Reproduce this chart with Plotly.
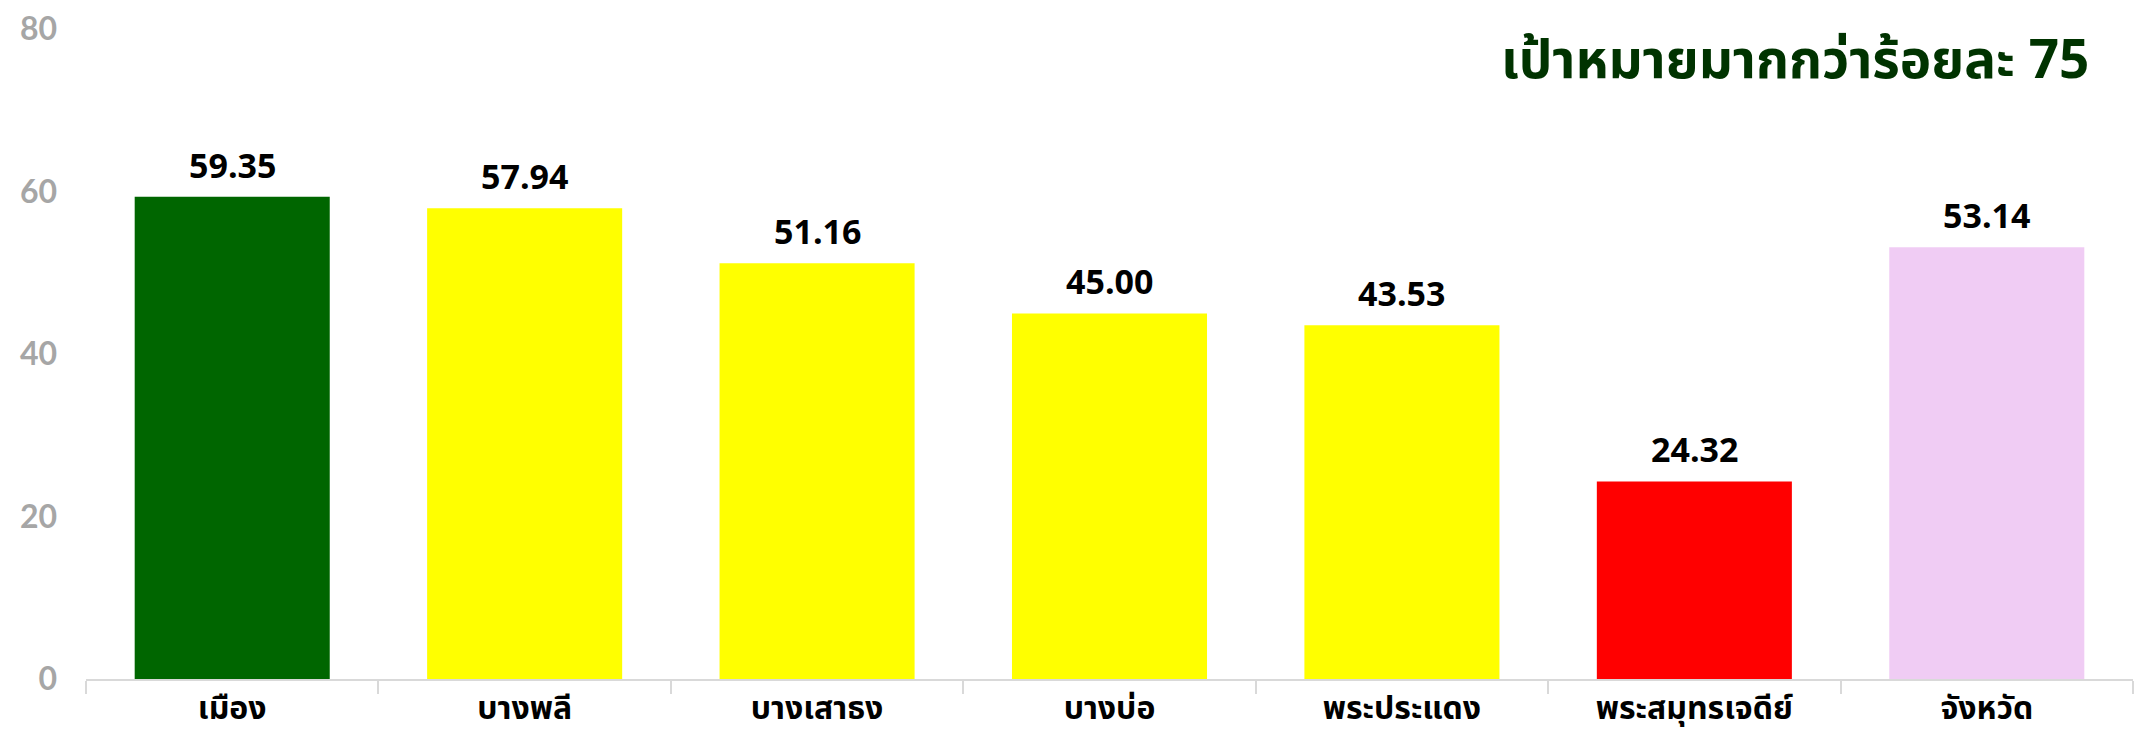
import plotly.graph_objects as go

categories = ["เมือง", "บางพลี", "บางเสาธง", "บางบ่อ", "พระประแดง", "พระสมุทรเจดีย์", "จังหวัด"]
values = [59.35, 57.94, 51.16, 45.00, 43.53, 24.32, 53.14]
colors = ["#006600", "#FFFF00", "#FFFF00", "#FFFF00", "#FFFF00", "#FF0000", "#F0CCF4"]
y_ticks = [0, 20, 40, 60, 80]
title_text = "เป้าหมายมากกว่าร้อยละ 75"

fig = go.Figure()
fig.add_trace(go.Bar(
    x=categories, y=values,
    marker=dict(color=colors, line=dict(width=0)),
    width=0.667,
    hoverinfo="x+y",
))

label_annotations = [
    dict(
        x=c, y=v, xref="x", yref="y", text=f"{v:.2f}",
        showarrow=False, xanchor="center", yanchor="bottom", yshift=7,
        font=dict(family="Open Sans", size=34, color="#000000", weight="bold"),
    )
    for c, v in zip(categories, values)
]

fig.update_layout(
    width=2143, height=735,
    margin=dict(l=78, r=18, t=21, b=64, autoexpand=False),
    plot_bgcolor="white", paper_bgcolor="white",
    showlegend=False,
    xaxis=dict(
        automargin=False,
        showline=True, linecolor="#D9D9D9", linewidth=2,
        ticks="outside", tickson="boundaries", ticklen=13, tickcolor="#D9D9D9", tickwidth=2,
        tickfont=dict(family="Noto Sans Thai, Noto Sans, DejaVu Sans", size=32, color="#000000", weight="bold"),
        showgrid=False,
    ),
    yaxis=dict(
        automargin=False,
        range=[0, 80], tickvals=y_ticks, showgrid=False, zeroline=False, showline=False,
        tickfont=dict(family="Lato", size=32, color="#A6A6A6", weight="bold"),
        ticks="", ticklabelstandoff=28, ticklabeloverflow="allow",
    ),
    annotations=label_annotations + [dict(
        text=title_text, xref="paper", yref="paper", x=0.9795, y=0.949,
        xanchor="right", yanchor="middle", showarrow=False,
        font=dict(family="Noto Sans Thai, Noto Sans, DejaVu Sans", size=53, color="#003300", weight="bold"),
    )],
)

fig.write_html("out.html")
